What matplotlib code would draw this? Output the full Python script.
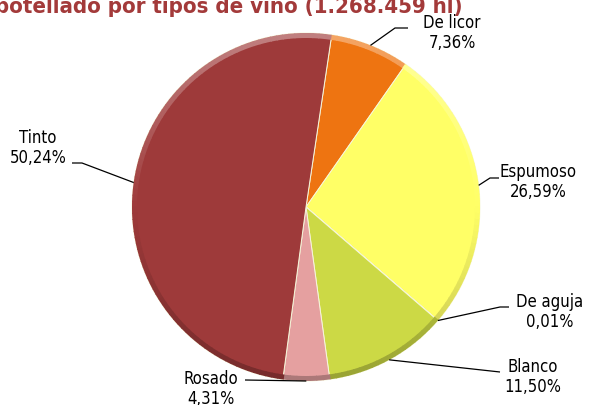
import numpy as np
import matplotlib
matplotlib.use("Agg")
import matplotlib.pyplot as plt
from matplotlib.patches import Wedge
from matplotlib.colors import to_rgb

# vino embotellado por tipos (% sobre 1.268.459 hl)
tipos = ["De licor", "Espumoso", "De aguja", "Blanco", "Rosado", "Tinto"]
porcentajes = [7.36, 26.59, 0.01, 11.50, 4.31, 50.24]
etiquetas = ["7,36%", "26,59%", "0,01%", "11,50%", "4,31%", "50,24%"]
colores = ["#EE7411", "#FFFF66", "#E4E49A", "#CCD945", "#E5A0A0", "#9E3A3A"]

titulo = "Vino embotellado por tipos de vino (1.268.459 hl)"

W, H = 590, 405
def Y(y):
    # coordenadas con origen arriba (como en pixeles)
    return H - y

def mezcla(c, f):
    # f > 0 aclara, f < 0 oscurece
    c = np.array(to_rgb(c))
    if f > 0:
        return tuple(c + (1 - c) * f)
    return tuple(c * (1 + f))

fig = plt.figure(figsize=(5.9, 4.05), dpi=100)
ax = fig.add_axes([0, 0, 1, 1])

centro = (306, Y(207))
radio = 174

wedges, _ = ax.pie(porcentajes, colors=colores, startangle=81.5, counterclock=False,
                   center=centro, radius=radio, frame=True,
                   wedgeprops=dict(edgecolor="#F6F6DA", linewidth=0.7))
ax.set_xlim(0, W)
ax.set_ylim(0, H)
ax.set_aspect("equal")
ax.axis("off")

# bisel: borde exterior claro arriba y oscuro abajo
for w, c in zip(wedges, colores):
    t1, t2 = w.theta1, w.theta2
    if t2 - t1 < 0.5:
        continue
    pasos = np.linspace(t1, t2, max(2, int((t2 - t1) / 2) + 1))
    for a, b in zip(pasos[:-1], pasos[1:]):
        s = np.sin(np.deg2rad((a + b) / 2))
        f = 0.35 * s if s > 0 else 0.25 * s
        ax.add_patch(Wedge(centro, radio, a, b + 0.3, width=5,
                           facecolor=mezcla(c, f), edgecolor="none"))

# (texto x, texto y, puntos de la linea guia sin el anclaje)
pos_etiquetas = {
    "De licor": (452, 33, [(395, 28), (408, 28)]),
    "Espumoso": (538, 182, [(490, 178), (499, 178)]),
    "De aguja": (550, 312, [(500, 307), (509, 307)]),
    "Blanco": (533, 377, [(500, 372)]),
    "Rosado": (211, 389, [(245, 380)]),
    "Tinto": (38, 148, [(82, 163), (72, 163)]),
}

for w, tipo, et in zip(wedges, tipos, etiquetas):
    ang = np.deg2rad((w.theta1 + w.theta2) / 2)
    px = centro[0] + radio * np.cos(ang)
    py = centro[1] + radio * np.sin(ang)
    tx, ty, guia = pos_etiquetas[tipo]
    xs = [px] + [g[0] for g in guia]
    ys = [py] + [Y(g[1]) for g in guia]
    ax.plot(xs, ys, color="black", lw=0.9, solid_capstyle="butt")
    ax.text(tx, Y(ty), tipo + "\n" + et, ha="center", va="center",
            fontsize=12, fontstretch="condensed", family="DejaVu Sans",
            linespacing=1.2, color="black")

ax.text(463, Y(13), titulo, ha="right", va="baseline", fontsize=15.9,
        fontweight="bold", fontstretch="condensed", family="DejaVu Sans",
        color="#A33A3A")

fig.savefig("out.png", dpi=100)
